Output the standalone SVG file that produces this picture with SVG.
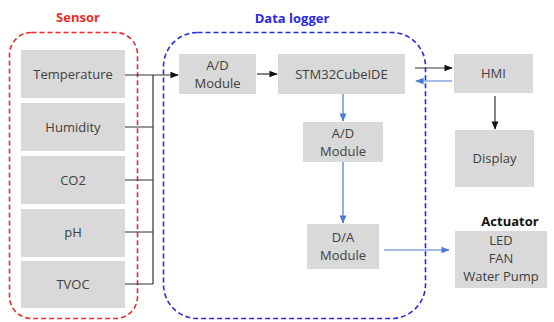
<svg xmlns="http://www.w3.org/2000/svg" width="554" height="322" viewBox="0 0 554 322">
<style>
.box{fill:#d9d9d9}
.t{font-family:"Open Sans","Noto Sans",sans-serif;font-size:13px;fill:#404040;text-anchor:middle}
.h{font-family:"Open Sans","Noto Sans",sans-serif;font-size:13px;font-weight:bold;text-anchor:middle}
.k{stroke:#333;stroke-width:1.2;fill:none}
.b{stroke:#4a7bd0;stroke-width:1.2;fill:none}
</style>
<defs>
<marker id="ak" viewBox="0 0 10 10" refX="9" refY="5" markerWidth="7" markerHeight="7" orient="auto"><path d="M0,1 L10,5 L0,9 Z" fill="#111"/></marker>
<marker id="ab" viewBox="0 0 10 10" refX="9" refY="5" markerWidth="7" markerHeight="7" orient="auto"><path d="M0,1 L10,5 L0,9 Z" fill="#4a7bd0"/></marker>
</defs>
<g id="sensor-group">
<rect x="9.5" y="32.5" width="128" height="286" rx="22" fill="none" stroke="#ee2a2a" stroke-width="1.6" stroke-dasharray="5,3"/>
<text class="h" x="78" y="22" fill="#ee2a2a">Sensor</text>
</g>
<g id="datalogger-group">
<rect x="163.5" y="32.5" width="262" height="286" rx="34" fill="none" stroke="#2a2ae0" stroke-width="1.6" stroke-dasharray="5,3"/>
<text class="h" x="292" y="23" fill="#2a2ae0">Data logger</text>
</g>
<g id="temperature"><rect class="box" x="21" y="50" width="104" height="48"/><text class="t" x="73" y="79">Temperature</text></g>
<g id="humidity"><rect class="box" x="21" y="103" width="104" height="48"/><text class="t" x="73" y="132">Humidity</text></g>
<g id="co2"><rect class="box" x="21" y="156" width="104" height="48"/><text class="t" x="73" y="185">CO2</text></g>
<g id="ph"><rect class="box" x="21" y="209" width="104" height="48"/><text class="t" x="73" y="237">pH</text></g>
<g id="tvoc"><rect class="box" x="21" y="261" width="104" height="47"/><text class="t" x="73" y="289">TVOC</text></g>
<g id="ad1"><rect class="box" x="179" y="54" width="77" height="40"/><text class="t" x="217.5" y="69.5">A/D</text><text class="t" x="217.5" y="87.5">Module</text></g>
<g id="stm"><rect class="box" x="278" y="54" width="127" height="40"/><text class="t" x="341.5" y="79">STM32CubeIDE</text></g>
<g id="ad2"><rect class="box" x="303" y="122" width="80" height="40"/><text class="t" x="343" y="137.5">A/D</text><text class="t" x="343" y="155.5">Module</text></g>
<g id="da"><rect class="box" x="307" y="224" width="72" height="45"/><text class="t" x="343" y="242">D/A</text><text class="t" x="343" y="260">Module</text></g>
<g id="hmi"><rect class="box" x="454" y="54" width="79" height="39"/><text class="t" x="493.5" y="78">HMI</text></g>
<g id="display"><rect class="box" x="455" y="130" width="79" height="57"/><text class="t" x="494.5" y="163">Display</text></g>
<g id="actuator"><text class="h" x="510" y="226" fill="#111">Actuator</text><rect class="box" x="455" y="231" width="92" height="57"/><text class="t" x="501" y="245">LED</text><text class="t" x="501" y="263">FAN</text><text class="t" x="501" y="281">Water Pump</text></g>
<g id="connectors">
<path class="k" d="M125,127 H153 M125,180 H153 M125,232 H153 M125,284 H153 M153,75 V284"/>
<path class="k" d="M125,75 H178" marker-end="url(#ak)"/>
<path class="k" d="M257,74 H277" marker-end="url(#ak)"/>
<path class="k" d="M415,68 H452" marker-end="url(#ak)"/>
<path class="b" d="M452,81 H416" marker-end="url(#ab)"/>
<path class="k" d="M495,96 V129" marker-end="url(#ak)"/>
<path class="b" d="M343,94 V121" marker-end="url(#ab)"/>
<path class="b" d="M343,162 V223" marker-end="url(#ab)"/>
<path class="b" d="M384,250 H449" marker-end="url(#ab)"/>
</g>
</svg>
